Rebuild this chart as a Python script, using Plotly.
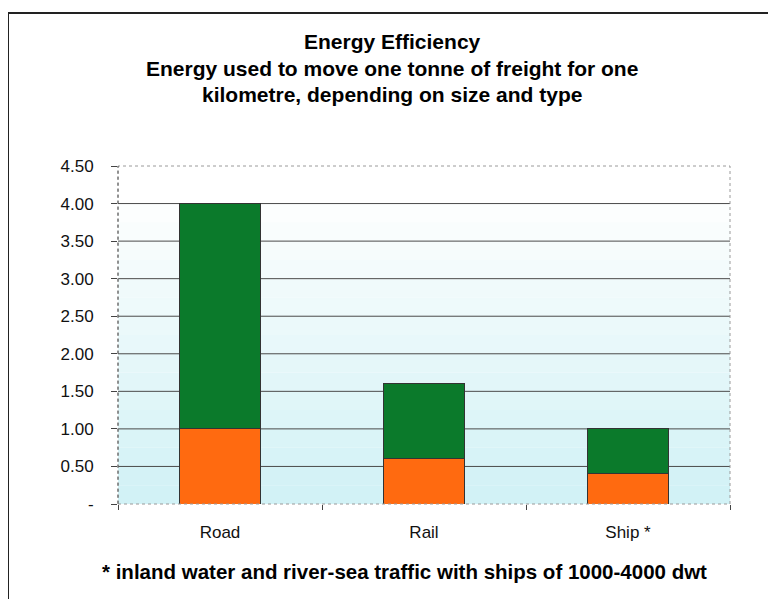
import plotly.graph_objects as go

# Daten
kategorien = ['Road', 'Rail', 'Ship *']
unterer_teil = [1.0, 0.6, 0.4]   # orange
oberer_teil = [3.0, 1.0, 0.6]    # green, stacked on top
y_ticks = [0, 0.5, 1.0, 1.5, 2.0, 2.5, 3.0, 3.5, 4.0, 4.5]
y_ticktext = ['-', '0.50', '1.00', '1.50', '2.00', '2.50', '3.00', '3.50', '4.00', '4.50']

# plot area in figure pixels (page has an 8px body margin)
L, T, B = 110, 158, 496
W, H = 612, B - T

def px(x):
    return (x - 8 - L) / W

def py(y):
    return (B - (y - 8)) / H

fig = go.Figure()
fig.add_trace(go.Bar(x=kategorien, y=unterer_teil, marker=dict(color='#ff6a10', line=dict(color='#333333', width=1)), width=0.4))
fig.add_trace(go.Bar(x=kategorien, y=oberer_teil, marker=dict(color='#0b7a2b', line=dict(color='#333333', width=1)), width=0.4))

shapes = []
# background: white above 4.0, fading to light cyan towards the bottom
n = 16
for i in range(n):
    t = i / (n - 1)
    r = int(252 - 42 * t)
    g = int(254 - 12 * t)
    b = int(254 - 8 * t)
    shapes.append(dict(type='rect', xref='paper', yref='y', x0=0, x1=1,
                       y0=4.0 - (i + 1) * 4.0 / n, y1=4.0 - i * 4.0 / n,
                       fillcolor=f'rgb({r},{g},{b})', line=dict(width=0), layer='below'))
# gridlines
for v in y_ticks[1:-1]:
    shapes.append(dict(type='line', xref='paper', yref='y', x0=0, x1=1, y0=v, y1=v,
                       line=dict(color='#4a4a4a', width=1), layer='between'))
# plot border (dotted)
shapes.append(dict(type='rect', xref='paper', yref='paper', x0=0, x1=1, y0=0, y1=1,
                   line=dict(color='#9a9a9a', width=1, dash='dot'), layer='above'))
shapes.append(dict(type='line', xref='paper', yref='paper', x0=0, x1=0, y0=0, y1=1,
                   line=dict(color='#555555', width=1, dash='dot'), layer='above'))
# outer frame
shapes.append(dict(type='rect', xref='paper', yref='paper',
                   x0=px(8), x1=px(769), y0=py(620), y1=py(13),
                   line=dict(color='#222222', width=2)))

titel = ['Energy Efficiency',
         'Energy used to move one tonne of freight for one',
         'kilometre, depending on size and type']
annotations = []
for i, zeile in enumerate(titel):
    annotations.append(dict(text=zeile, xref='paper', yref='paper', x=px(392),
                            y=py(42 + i * 26), showarrow=False,
                            font=dict(family='Liberation Sans', size=21, color='#000000', weight='bold'),
                            xanchor='center', yanchor='middle'))
annotations.append(dict(text='* inland water and river-sea traffic with ships of 1000-4000 dwt',
                        xref='paper', yref='paper', x=px(404), y=py(571),
                        showarrow=False, xanchor='center', yanchor='middle',
                        font=dict(family='Liberation Sans', size=20.5, color='#000000', weight='bold')))

fig.update_layout(
    barmode='stack',
    width=776, height=599,
    margin=dict(l=L, r=776 - L - W, t=T, b=599 - B),
    paper_bgcolor='white', plot_bgcolor='white',
    showlegend=False,
    shapes=shapes,
    annotations=annotations,
    font=dict(family='Liberation Sans', size=17, color='#111111'),
)
fig.update_yaxes(range=[0, 4.5], tickvals=y_ticks, ticktext=y_ticktext, showgrid=False,
                 ticks='outside', ticklen=6, tickcolor='#444444', zeroline=False,
                 showline=False, ticklabelstandoff=14, tickfont=dict(size=17))
fig.update_xaxes(tickson='boundaries', ticks='outside', ticklen=5, tickcolor='#444444',
                 showgrid=False, showline=False, ticklabelstandoff=16, range=[-0.5, 2.5],
                 tickfont=dict(size=17))

fig.write_html("out.html")
